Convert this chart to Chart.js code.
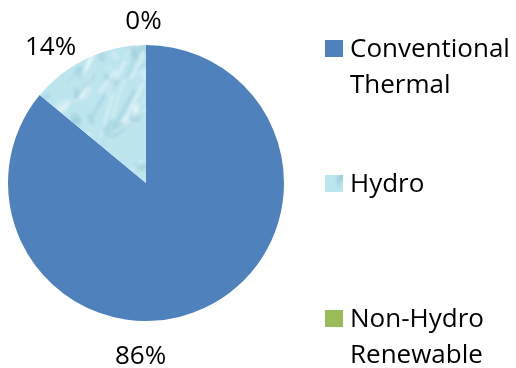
<!DOCTYPE html>
<html>
<head>
<meta charset="utf-8">
<style>
  html, body { margin: 0; padding: 0; background: #ffffff; }
  #wrap { width: 516px; height: 368px; position: relative; }
</style>
<script src="https://cdn.jsdelivr.net/npm/chart.js@4.4.1/dist/chart.umd.min.js"></script>
</head>
<body>
<div id="wrap"><canvas id="chart" width="516" height="368"></canvas></div>
<script>
// Electricity generation mix (share of total, %)
const categories = ['Conventional Thermal', 'Hydro', 'Non-Hydro Renewable'];
const legendLines = [['Conventional', 'Thermal'], ['Hydro'], ['Non-Hydro', 'Renewable']];
const shares = [86, 14, 0];
const valueLabels = ['86%', '14%', '0%'];

const FONT = '"Open Sans", "Noto Sans", sans-serif';
const FONT_SIZE = 26;

// Water-like texture used for the Hydro slice
function makeWaterPattern(ctx) {
  const src = document.createElement('canvas');
  src.width = 160; src.height = 160;
  const g = src.getContext('2d');
  g.fillStyle = '#bde5ee';
  g.fillRect(0, 0, 160, 160);
  let seed = 11;
  const rnd = () => { seed = (seed * 16807) % 2147483647; return (seed - 1) / 2147483646; };
  for (let i = 0; i < 70; i++) {
    const x = rnd() * 160, y = rnd() * 160;
    const len = 12 + rnd() * 34;
    const ang = -1.3 + rnd() * 0.7;
    g.beginPath();
    g.moveTo(x, y);
    g.quadraticCurveTo(x + Math.cos(ang) * len * 0.5 + (rnd() - 0.5) * 12,
                       y + Math.sin(ang) * len * 0.5 + (rnd() - 0.5) * 12,
                       x + Math.cos(ang) * len, y + Math.sin(ang) * len);
    const light = rnd() < 0.5;
    g.strokeStyle = light ? 'rgba(255,255,255,0.45)' : 'rgba(105,170,190,0.28)';
    g.lineWidth = 1 + rnd() * 2.5;
    g.stroke();
  }
  for (let i = 0; i < 50; i++) {
    const x = rnd() * 160, y = rnd() * 160, r = 2 + rnd() * 7;
    g.beginPath();
    g.ellipse(x, y, r, r * 0.6, rnd() * 3, 0, Math.PI * 2);
    g.fillStyle = rnd() < 0.5 ? 'rgba(255,255,255,0.25)' : 'rgba(125,185,200,0.25)';
    g.fill();
  }
  // soften the grain
  const soft = document.createElement('canvas');
  soft.width = 160; soft.height = 160;
  const s = soft.getContext('2d');
  s.fillStyle = '#bde5ee';
  s.fillRect(0, 0, 160, 160);
  s.filter = 'blur(1.4px)';
  s.drawImage(src, 0, 0);
  return ctx.createPattern(soft, 'repeat');
}

const canvas = document.getElementById('chart');
const ctx = canvas.getContext('2d');
const water = makeWaterPattern(ctx);
const sliceColors = ['#4f81bd', water, '#9bbb59'];

// Percentage labels placed outside the pie (angle clockwise from 12 o'clock, distance in radii)
const labelPlacement = [
  { angle: 181.8, dist: 1.26 },
  { angle: -35.2, dist: 1.2 },
  { angle: -0.9, dist: 1.167 }
];

const outsideLabels = {
  id: 'outsideLabels',
  afterDatasetsDraw(chart) {
    const meta = chart.getDatasetMeta(0);
    const c = chart.ctx;
    c.save();
    c.font = FONT_SIZE + 'px ' + FONT;
    c.fillStyle = '#000000';
    c.textAlign = 'center';
    c.textBaseline = 'middle';
    meta.data.forEach((arc, i) => {
      const p = labelPlacement[i];
      const a = (p.angle - 90) * Math.PI / 180;
      const d = arc.outerRadius * p.dist;
      c.fillText(valueLabels[i], arc.x + Math.cos(a) * d, arc.y + Math.sin(a) * d);
    });
    c.restore();
  }
};

// Legend on the right, one entry per category with wrapped names
const legendBaselines = [57, 192, 327];
const sideLegend = {
  id: 'sideLegend',
  afterDraw(chart) {
    const c = chart.ctx;
    c.save();
    c.font = FONT_SIZE + 'px ' + FONT;
    c.textAlign = 'left';
    c.textBaseline = 'alphabetic';
    categories.forEach((name, i) => {
      const base = legendBaselines[i];
      c.fillStyle = sliceColors[i];
      c.fillRect(325, base - 17, 18, 17);
      c.fillStyle = '#000000';
      legendLines[i].forEach((line, k) => c.fillText(line, 350, base + k * 36));
    });
    c.restore();
  }
};

new Chart(ctx, {
  type: 'pie',
  data: {
    labels: categories,
    datasets: [{
      data: shares,
      backgroundColor: sliceColors,
      borderWidth: 0
    }]
  },
  options: {
    responsive: false,
    animation: false,
    layout: { padding: { left: 8, right: 232, top: 45, bottom: 47 } },
    plugins: {
      legend: { display: false },
      tooltip: { enabled: false }
    }
  },
  plugins: [outsideLabels, sideLegend]
});
</script>
</body>
</html>
